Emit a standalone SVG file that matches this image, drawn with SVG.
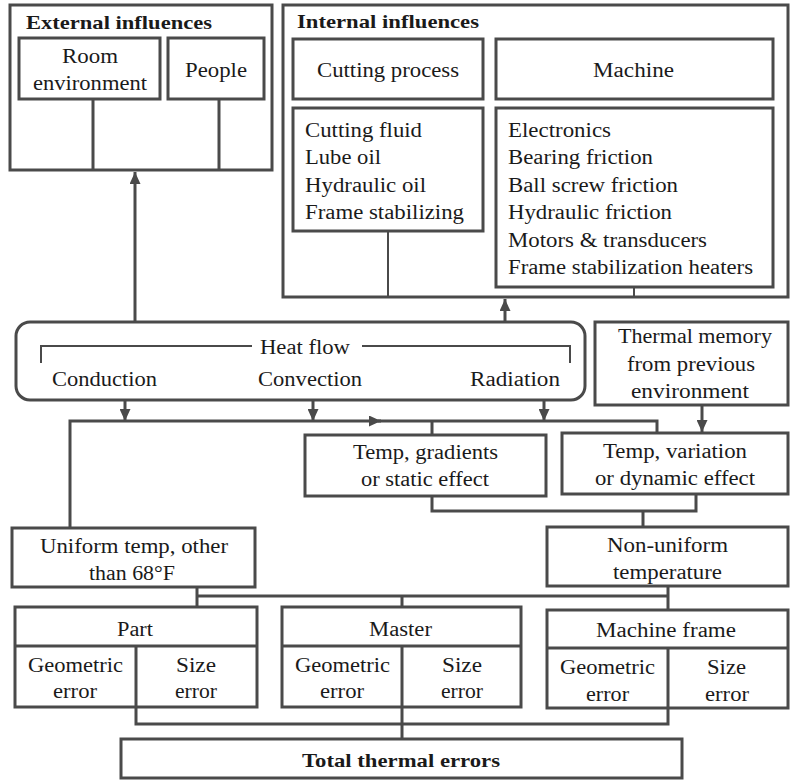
<svg xmlns="http://www.w3.org/2000/svg" width="792" height="780" viewBox="0 0 792 780">
<style>
.b{fill:#fff;stroke:#4a4a4a;stroke-width:3}
.c{fill:none;stroke:#4a4a4a;stroke-width:3}
.t{fill:none;stroke:#4a4a4a;stroke-width:2}
text{font-family:"Liberation Serif","Times New Roman",Times,serif;font-size:20px;fill:#1a1a1a}
.h{font-weight:bold;font-size:19px}
</style>
<defs>
<marker id="arr" markerUnits="userSpaceOnUse" markerWidth="13" markerHeight="11" refX="12" refY="5.5" orient="auto">
<path d="M0,0 L12,5.5 L0,11 z" fill="#4a4a4a"/>
</marker>
</defs>
<rect width="792" height="780" fill="#fff"/>
<g id="external">
<rect class="b" x="10" y="5" width="262" height="165"/>
<text class="h" x="26" y="29" textLength="186" lengthAdjust="spacingAndGlyphs">External influences</text>
</g>
<g id="internal">
<rect class="b" x="283" y="5" width="505" height="292"/>
<text class="h" x="297" y="28" textLength="182" lengthAdjust="spacingAndGlyphs">Internal influences</text>
</g>
<g id="connectors">
<path class="c" d="M135,322 V172" marker-end="url(#arr)"/>
<path class="c" d="M505,322 V299" marker-end="url(#arr)"/>
<path class="c" d="M93,99 V170 M219,99 V170"/>
<path class="t" d="M388,231 V297 M634,287 V297"/>
<path class="c" d="M125,400 V421" marker-end="url(#arr)"/>
<path class="c" d="M313,400 V421" marker-end="url(#arr)"/>
<path class="c" d="M544,400 V421" marker-end="url(#arr)"/>
<path class="c" d="M70,528 V421 H381" marker-end="url(#arr)"/>
<path class="c" d="M378,421 H657 V433 M432,421 V435"/>
<path class="c" d="M702,405 V432" marker-end="url(#arr)"/>
<path class="c" d="M432,496 V511 H696 V494 M643,511 V527"/>
<path class="c" d="M197,587 V607 M197,596 H668 M668,586 V610 M402,596 V607"/>
<path class="c" d="M136,707 V724 H668 V708 M402,707 V739"/>
</g>
<g id="room">
<rect class="b" x="19" y="38" width="141" height="61"/>
<text x="62" y="63" textLength="56" lengthAdjust="spacingAndGlyphs">Room</text>
<text x="33" y="90" textLength="114" lengthAdjust="spacingAndGlyphs">environment</text>
</g>
<g id="people">
<rect class="b" x="168" y="38" width="96" height="61"/>
<text x="185" y="77" textLength="62" lengthAdjust="spacingAndGlyphs">People</text>
</g>
<g id="cutting">
<rect class="b" x="293" y="39" width="190" height="60"/>
<text x="317" y="77" textLength="142" lengthAdjust="spacingAndGlyphs">Cutting process</text>
</g>
<g id="machine">
<rect class="b" x="496" y="39" width="277" height="60"/>
<text x="593" y="77" textLength="81" lengthAdjust="spacingAndGlyphs">Machine</text>
</g>
<g id="fluids">
<rect class="b" x="293" y="108" width="190" height="123"/>
<text x="305" y="137" textLength="117" lengthAdjust="spacingAndGlyphs">Cutting fluid</text>
<text x="305" y="164" textLength="76" lengthAdjust="spacingAndGlyphs">Lube oil</text>
<text x="305" y="192" textLength="121" lengthAdjust="spacingAndGlyphs">Hydraulic oil</text>
<text x="305" y="219" textLength="159" lengthAdjust="spacingAndGlyphs">Frame stabilizing</text>
</g>
<g id="sources">
<rect class="b" x="496" y="108" width="277" height="179"/>
<text x="508" y="137" textLength="103" lengthAdjust="spacingAndGlyphs">Electronics</text>
<text x="508" y="164" textLength="145" lengthAdjust="spacingAndGlyphs">Bearing friction</text>
<text x="508" y="192" textLength="170" lengthAdjust="spacingAndGlyphs">Ball screw friction</text>
<text x="508" y="219" textLength="164" lengthAdjust="spacingAndGlyphs">Hydraulic friction</text>
<text x="508" y="247" textLength="199" lengthAdjust="spacingAndGlyphs">Motors &amp; transducers</text>
<text x="508" y="274" textLength="245" lengthAdjust="spacingAndGlyphs">Frame stabilization heaters</text>
</g>
<g id="heatflow">
<rect class="b" x="16" y="322" width="569" height="78" rx="14"/>
<path class="t" d="M41,363 V346 H252 M362,346 H570 V363"/>
<text x="260" y="354" textLength="90" lengthAdjust="spacingAndGlyphs">Heat flow</text>
<text x="52" y="386" textLength="105" lengthAdjust="spacingAndGlyphs">Conduction</text>
<text x="258" y="386" textLength="104" lengthAdjust="spacingAndGlyphs">Convection</text>
<text x="470" y="386" textLength="90" lengthAdjust="spacingAndGlyphs">Radiation</text>
</g>
<g id="memory">
<rect class="b" x="595" y="322" width="193" height="83"/>
<text x="618" y="343" textLength="154" lengthAdjust="spacingAndGlyphs">Thermal memory</text>
<text x="627" y="371" textLength="128" lengthAdjust="spacingAndGlyphs">from previous</text>
<text x="631" y="398" textLength="118" lengthAdjust="spacingAndGlyphs">environment</text>
</g>
<g id="gradients">
<rect class="b" x="305" y="435" width="241" height="61"/>
<text x="353" y="459" textLength="145" lengthAdjust="spacingAndGlyphs">Temp, gradients</text>
<text x="361" y="486" textLength="128" lengthAdjust="spacingAndGlyphs">or static effect</text>
</g>
<g id="variation">
<rect class="b" x="562" y="433" width="226" height="61"/>
<text x="603" y="458" textLength="144" lengthAdjust="spacingAndGlyphs">Temp, variation</text>
<text x="595" y="485" textLength="160" lengthAdjust="spacingAndGlyphs">or dynamic effect</text>
</g>
<g id="uniform">
<rect class="b" x="12" y="528" width="243" height="59"/>
<text x="40" y="553" textLength="188" lengthAdjust="spacingAndGlyphs">Uniform temp, other</text>
<text x="89" y="580" textLength="86" lengthAdjust="spacingAndGlyphs">than 68°F</text>
</g>
<g id="nonuniform">
<rect class="b" x="547" y="527" width="241" height="59"/>
<text x="607" y="552" textLength="121" lengthAdjust="spacingAndGlyphs">Non-uniform</text>
<text x="613" y="579" textLength="109" lengthAdjust="spacingAndGlyphs">temperature</text>
</g>
<g id="part">
<rect class="b" x="15" y="607" width="242" height="100"/>
<path class="c" d="M15,646 H257 M136,646 V707"/>
<text x="117" y="636" textLength="36" lengthAdjust="spacingAndGlyphs">Part</text>
<text x="28" y="672" textLength="95" lengthAdjust="spacingAndGlyphs">Geometric</text>
<text x="53" y="698" textLength="44" lengthAdjust="spacingAndGlyphs">error</text>
<text x="176" y="672" textLength="40" lengthAdjust="spacingAndGlyphs">Size</text>
<text x="175" y="698" textLength="42" lengthAdjust="spacingAndGlyphs">error</text>
</g>
<g id="master">
<rect class="b" x="282" y="607" width="239" height="100"/>
<path class="c" d="M282,646 H521 M402,646 V707"/>
<text x="369" y="636" textLength="63" lengthAdjust="spacingAndGlyphs">Master</text>
<text x="295" y="672" textLength="95" lengthAdjust="spacingAndGlyphs">Geometric</text>
<text x="320" y="698" textLength="44" lengthAdjust="spacingAndGlyphs">error</text>
<text x="442" y="672" textLength="40" lengthAdjust="spacingAndGlyphs">Size</text>
<text x="441" y="698" textLength="42" lengthAdjust="spacingAndGlyphs">error</text>
</g>
<g id="frame">
<rect class="b" x="547" y="610" width="241" height="98"/>
<path class="c" d="M547,648 H788 M668,648 V708"/>
<text x="596" y="637" textLength="140" lengthAdjust="spacingAndGlyphs">Machine frame</text>
<text x="560" y="674" textLength="95" lengthAdjust="spacingAndGlyphs">Geometric</text>
<text x="586" y="701" textLength="43" lengthAdjust="spacingAndGlyphs">error</text>
<text x="707" y="674" textLength="39" lengthAdjust="spacingAndGlyphs">Size</text>
<text x="705" y="701" textLength="44" lengthAdjust="spacingAndGlyphs">error</text>
</g>
<g id="total">
<rect class="b" x="121" y="739" width="561" height="39"/>
<text class="h" x="302" y="767" textLength="198" lengthAdjust="spacingAndGlyphs">Total thermal errors</text>
</g>
</svg>
